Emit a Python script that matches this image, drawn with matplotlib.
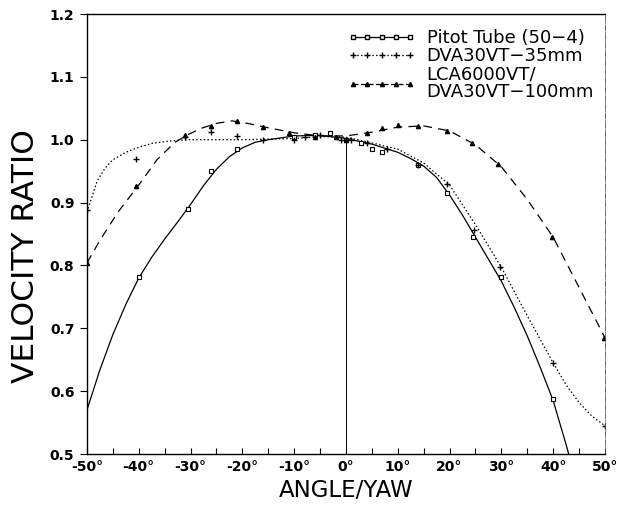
import matplotlib
matplotlib.use("Agg")
import matplotlib.pyplot as plt
from matplotlib.lines import Line2D

# measured points
pitot_x = [-40, -30.5, -26, -21, -10, -6, -3, 0, 3, 5, 7, 14, 19.5, 24.5, 30, 40]
pitot_y = [0.782, 0.89, 0.95, 0.985, 1.005, 1.008, 1.01, 1.0, 0.995, 0.985, 0.98, 0.96, 0.915, 0.845, 0.782, 0.587]

dva_x = [-50, -40.5, -31, -26, -21, -16, -10, -8, -5, -1, 1, 4, 8, 14, 19.5, 24.7, 29.7, 40, 50]
dva_y = [0.888, 0.969, 1.004, 1.013, 1.006, 1.0, 1.0, 1.005, 1.008, 1.0, 1.0, 0.995, 0.985, 0.96, 0.93, 0.856, 0.797, 0.645, 0.545]

lca_x = [-50, -40.5, -31, -26, -21, -16, -11, -6, -2, 0, 4, 7, 10, 14, 19.5, 24.3, 29.3, 39.8, 49.8]
lca_y = [0.804, 0.926, 1.007, 1.022, 1.03, 1.02, 1.01, 1.005, 1.005, 1.0, 1.011, 1.018, 1.023, 1.022, 1.014, 0.995, 0.961, 0.845, 0.685]

# fitted curves
pitot_fit_x = [-50, -47.5, -45, -42.5, -40, -37.5, -35, -32.5, -30, -27.5, -25, -22.5, -20, -17.5, -15, -10, -5, 0,
               5, 10, 12.5, 15, 17.5, 20, 22.5, 25, 27.5, 30, 32.5, 35, 37.5, 40, 42.5, 43]
pitot_fit_y = [0.57, 0.634, 0.69, 0.738, 0.78, 0.813, 0.842, 0.869, 0.897, 0.927, 0.953, 0.973, 0.987, 0.996, 1.0, 1.006, 1.007, 1.002,
               0.993, 0.98, 0.97, 0.958, 0.94, 0.912, 0.88, 0.845, 0.81, 0.775, 0.733, 0.688, 0.638, 0.585, 0.515, 0.5]

dva_fit_x = [-50, -49, -48, -46.5, -45, -42.5, -40, -37.5, -35, -32.5, -30, -20, -10, -5, 0,
             5, 10, 15, 20, 25, 30, 35, 40, 42.5, 45, 47.5, 50]
dva_fit_y = [0.885, 0.91, 0.935, 0.955, 0.968, 0.98, 0.988, 0.994, 0.997, 0.999, 1.0, 1.0, 1.002, 1.005, 1.004,
             0.995, 0.985, 0.963, 0.928, 0.865, 0.797, 0.72, 0.645, 0.61, 0.582, 0.56, 0.545]

lca_fit_x = [-50, -47.5, -44, -40, -36.5, -33, -30.5, -28, -25, -22, -19, -15, -10, -5, 0,
             5, 10, 15, 20, 25, 30, 35, 40, 45, 50]
lca_fit_y = [0.804, 0.84, 0.885, 0.928, 0.968, 0.996, 1.008, 1.018, 1.026, 1.03, 1.026, 1.019, 1.011, 1.006, 1.006,
             1.012, 1.02, 1.022, 1.014, 0.992, 0.957, 0.905, 0.845, 0.765, 0.685]

x_ticks = [-50, -40, -30, -20, -10, 0, 10, 20, 30, 40, 50]
y_ticks = [0.5, 0.6, 0.7, 0.8, 0.9, 1.0, 1.1, 1.2]

fig = plt.figure(figsize=(6.19, 5.13), dpi=100)
ax = fig.add_axes([0.1405, 0.115, 0.8368, 0.8577])

ax.plot(pitot_fit_x, pitot_fit_y, color='black', lw=0.9, ls='-')
ax.plot(dva_fit_x, dva_fit_y, color='black', lw=0.9, ls=(0, (1.2, 1.8)))
ax.plot(lca_fit_x, lca_fit_y, color='black', lw=0.9, ls=(0, (7, 5)))

ax.plot(pitot_x, pitot_y, ls='none', marker='s', ms=3, mfc='white', mec='black', mew=0.8)
ax.plot(dva_x, dva_y, ls='none', marker='+', ms=4, mec='black', mew=1.0)
ax.plot(lca_x, lca_y, ls='none', marker='^', ms=3, mfc='black', mec='black')

ax.vlines(0, 0.5, 1.0, color='black', lw=0.7)

ax.set_xlim(-50, 50)
ax.set_ylim(0.5, 1.2)
ax.set_xticks(x_ticks)
ax.set_xticklabels([f'{t}°' for t in x_ticks], fontweight='bold', fontsize=10)
ax.set_xticks(range(-45, 50, 10), minor=True)
ax.set_yticks(y_ticks)
ax.set_yticklabels([f'{t:.1f}' for t in y_ticks], fontweight='bold', fontsize=10)
ax.tick_params(axis='x', which='both', direction='in', length=4, width=0.8, pad=4)
ax.tick_params(axis='y', direction='out', length=5, width=0.8, pad=4)

for s in ['left', 'bottom', 'top']:
    ax.spines[s].set_linewidth(1.0)
ax.spines['right'].set_linewidth(0.6)
ax.spines['right'].set_linestyle('dashdot')
ax.spines['right'].set_color('#555555')

ax.set_xlabel('ANGLE/YAW', fontsize=16.5, labelpad=4)
ax.set_ylabel('VELOCITY RATIO', fontsize=22.5)
ax.yaxis.set_label_coords(-0.091, 0.45)

handles = [
    Line2D([], [], color='black', lw=0.9, ls='-', marker='s', ms=3, mfc='white', mec='black'),
    Line2D([], [], color='black', lw=0.9, ls=(0, (1.2, 1.8)), marker='+', ms=4, mec='black'),
    Line2D([], [], color='black', lw=0.9, ls=(0, (4, 2)), marker='^', ms=3, mfc='black', mec='black'),
]
labels = ['Pitot Tube (50−4)', 'DVA30VT−35mm', 'LCA6000VT/\nDVA30VT−100mm']
leg = ax.legend(handles, labels, loc='upper right', bbox_to_anchor=(1.0, 0.99), frameon=False,
                numpoints=5, handlelength=3.8, fontsize=13, labelspacing=0.0, handletextpad=0.6,
                borderaxespad=0.2)
for t in leg.get_texts():
    t.set_linespacing(1.0)

fig.savefig('out.png', dpi=100)
